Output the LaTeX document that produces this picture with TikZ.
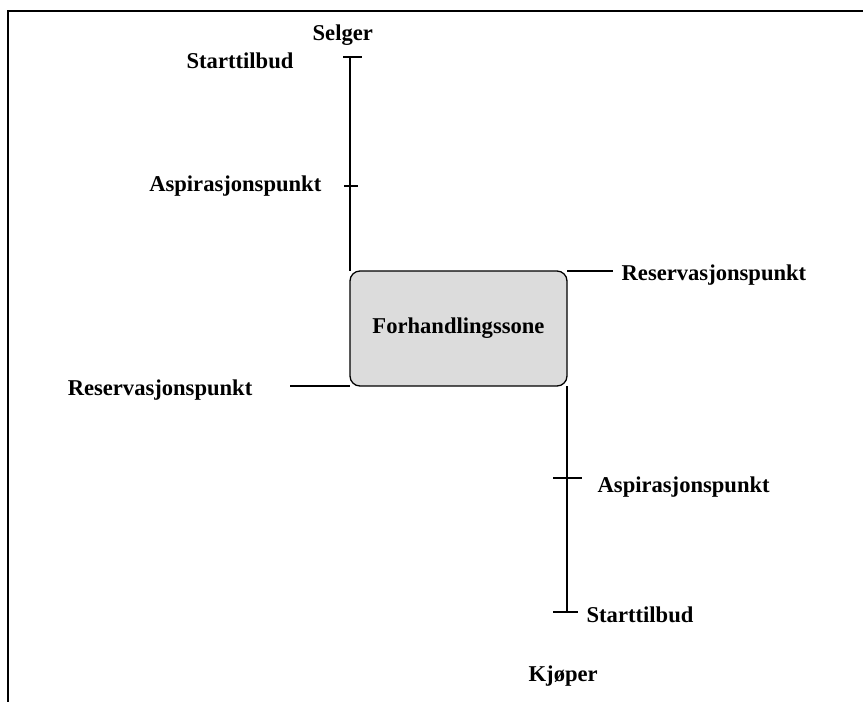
\documentclass[tikz,border=0pt]{standalone}
\usepackage{fontspec}
\setmainfont{Liberation Serif}
\usepackage{xcolor}
\usepackage{tikz}
\usetikzlibrary{calc, positioning}
\definecolor{vungxam}{RGB}{220,220,220}

\begin{document}
\begin{tikzpicture}[x=1pt, y=-1pt, line width=1.3pt,
    nhan/.style={inner sep=0pt, font=\fontsize{22.6}{27}\selectfont\bfseries},
    vung/.style={nhan, draw, fill=vungxam, rounded corners=10pt, outer sep=0pt,
        minimum width=217pt, minimum height=115pt}]
    \useasboundingbox (0,0) rectangle (863,702);
    % Khung
    \draw[line width=2.2pt] (8,702) -- (8,11) -- (863,11);
    % Vùng đàm phán
    \node[vung] (zone) at (458.5,328.5) {Forhandlingssone};
    % Các điểm mốc
    \coordinate (selgerstart) at (350,57);
    \coordinate (selgerasp) at (350,186);
    \coordinate (kjoperasp) at (567,478);
    \coordinate (kjoperstart) at (567,612);
    \coordinate (selgerres) at (613,271);
    \coordinate (kjoperres) at (290,386);
    % Trục người bán và người mua
    \draw (selgerstart) -- (zone.north west);
    \draw (zone.north east) -- (selgerres);
    \draw (kjoperres) -- (zone.south west);
    \draw (zone.south east) -- (kjoperstart);
    % Vạch chia
    \draw ([xshift=-7pt]selgerstart) -- ([xshift=12pt]selgerstart);
    \draw ([xshift=-6pt]selgerasp) -- ([xshift=8pt]selgerasp);
    \draw ([xshift=-14pt]kjoperasp) -- ([xshift=15pt]kjoperasp);
    \draw ([xshift=-14pt]kjoperstart) -- ([xshift=11pt]kjoperstart);
    % Nhãn
    \node[nhan, anchor=base west] (selger) at (312,40) {Selger};
    \node[nhan, anchor=base west] (startS) at (186,68) {Starttilbud};
    \node[nhan, anchor=base east] (aspS) at (322,191) {Aspirasjonspunkt};
    \node[nhan, anchor=base west] (resS) at (621,280) {Reservasjonspunkt};
    \node[nhan, anchor=base east] (resK) at (253,395) {Reservasjonspunkt};
    \node[nhan, anchor=base west] (aspK) at (597,492) {Aspirasjonspunkt};
    \node[nhan, anchor=base west] (startK) at (586,622) {Starttilbud};
    \node[nhan, anchor=base west] (kjoper) at (528,681) {Kjøper};
\end{tikzpicture}
\end{document}
